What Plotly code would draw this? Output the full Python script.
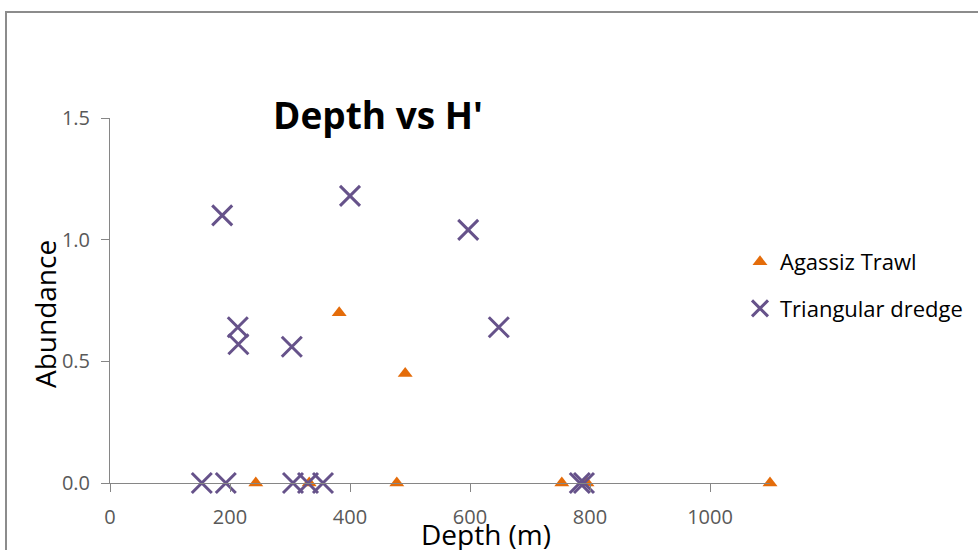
import plotly.graph_objects as go

# ---- data ----
trawl_depth = [243, 332, 382, 478, 492, 753, 795, 1100]
trawl_h = [0, 0, 0.70, 0, 0.45, 0, 0, 0]

dredge_depth = [153, 193, 305, 330, 355, 187, 400, 597, 213, 214, 303, 648, 783, 790]
dredge_h = [0, 0, 0, 0, 0, 1.10, 1.18, 1.04, 0.64, 0.57, 0.56, 0.64, 0, 0]

x_ticks = [0, 200, 400, 600, 800, 1000]
y_ticks = [0, 0.5, 1.0, 1.5]
y_tick_labels = ["0.0", "0.5", "1.0", "1.5"]

FONT = "Open Sans"
L, R, T, B = 110, 208, 118, 67
W, H = 978, 550
pw, ph = W - L - R, H - T - B


def px2paper_x(px):
    return (px - L) / pw


def px2paper_y(py):
    return (H - B - py) / ph


fig = go.Figure()
fig.add_trace(go.Scatter(
    x=trawl_depth, y=trawl_h, mode="markers", name="Agassiz Trawl",
    legendgroup="a",
    marker=dict(symbol="triangle-up", size=13, color="#e46c0a", line=dict(width=0)),
    cliponaxis=False,
))
fig.add_trace(go.Scatter(
    x=dredge_depth, y=dredge_h, mode="markers", name="Triangular dredge",
    legendgroup="b",
    marker=dict(symbol="x-thin", size=20, color="#66528a",
                line=dict(width=3, color="#66528a")),
    cliponaxis=False,
))

axis_common = dict(
    showgrid=False, zeroline=False, showline=True, linecolor="#868686", linewidth=1,
    ticks="outside", ticklen=8, tickcolor="#868686", tickwidth=1,
    tickfont=dict(family=FONT, size=20, color="#595959"),
    fixedrange=True, automargin=False,
)

fig.update_xaxes(range=[0, 1100], tickvals=x_ticks, ticktext=[str(v) for v in x_ticks],
                 ticklabelstandoff=8, **axis_common)
fig.update_yaxes(range=[0, 1.5], tickvals=y_ticks, ticktext=y_tick_labels,
                 ticklabelstandoff=7, **axis_common)

fig.add_annotation(text="<b>Depth vs H'</b>", xref="paper", yref="paper",
                   x=px2paper_x(378), y=px2paper_y(115), xanchor="center", yanchor="middle",
                   showarrow=False, font=dict(family=FONT, size=37, color="#000000"))
fig.add_annotation(text="Abundance", xref="paper", yref="paper",
                   x=px2paper_x(45), y=px2paper_y(314), xanchor="center", yanchor="middle",
                   textangle=-90, showarrow=False,
                   font=dict(family=FONT, size=28, color="#000000"))
fig.add_annotation(text="Depth (m)", xref="paper", yref="paper",
                   x=px2paper_x(486), y=px2paper_y(534), xanchor="center", yanchor="middle",
                   showarrow=False, font=dict(family=FONT, size=28, color="#000000"))

# outer chart border (extends beyond right/bottom edges)
fig.add_shape(type="rect", xref="paper", yref="paper",
              x0=px2paper_x(6), x1=px2paper_x(1000), y0=px2paper_y(580), y1=px2paper_y(12),
              line=dict(color="#8c8c8c", width=2), fillcolor="rgba(0,0,0,0)", layer="below")

fig.update_layout(
    width=W, height=H,
    margin=dict(l=L, r=R, t=T, b=B, autoexpand=False),
    paper_bgcolor="white", plot_bgcolor="white",
    showlegend=True,
    legend=dict(x=px2paper_x(740), y=px2paper_y(241), xanchor="left", yanchor="top",
                font=dict(family=FONT, size=22, color="#000000"),
                traceorder="grouped", tracegroupgap=15,
                bgcolor="rgba(0,0,0,0)", borderwidth=0, itemwidth=30),
)

fig.write_html("out.html")
